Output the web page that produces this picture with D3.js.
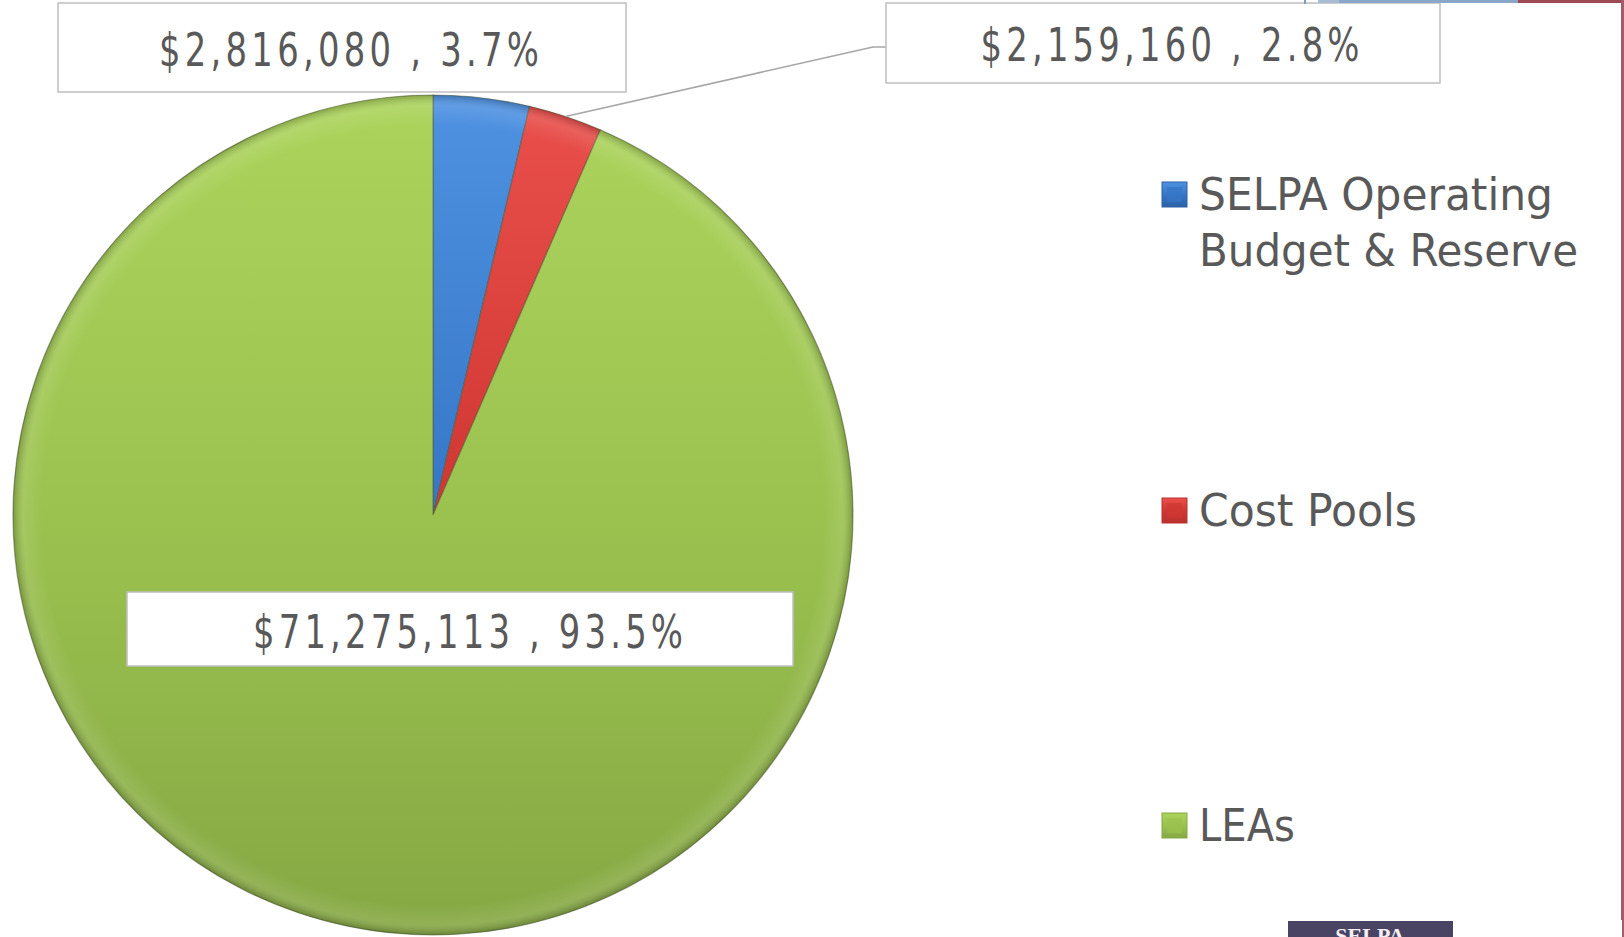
<!DOCTYPE html>
<html>
<head>
<meta charset="utf-8">
<script src="https://cdn.jsdelivr.net/npm/d3@7/dist/d3.min.js"></script>
<style>
  html, body { margin: 0; padding: 0; background: #fff; }
  svg { display: block; }
</style>
</head>
<body>
<div id="CHART"></div>
<script>
// chart data
const categories = ["SELPA Operating Budget & Reserve", "Cost Pools", "LEAs"];
const legendLines = [["SELPA Operating", "Budget & Reserve"], ["Cost Pools"], ["LEAs"]];
const amounts = [2816080, 2159160, 71275113];
const sliceColors = [
    ["#4f92e2", "#3676c6", "#2c62a8"],
    ["#ea4f4b", "#cf3733", "#b9312e"],
    ["#acd45c", "#9bc24f", "#86a844"]
];

const width = 1624,
    height = 937,
    cx = 433,
    cy = 515,
    radius = 420,
    squeeze = 0.8;

const svg = d3.select("#CHART")
    .append("svg")
    .attr("width", width)
    .attr("height", height);

const defs = svg.append("defs");

sliceColors.forEach((c, i) => {
    const g = defs.append("linearGradient")
        .attr("id", "grad" + i)
        .attr("gradientUnits", "userSpaceOnUse")
        .attr("x1", 0).attr("y1", -radius)
        .attr("x2", 0).attr("y2", radius);
    g.append("stop").attr("offset", "0").attr("stop-color", c[0]);
    g.append("stop").attr("offset", "0.5").attr("stop-color", c[1]);
    g.append("stop").attr("offset", "1").attr("stop-color", c[2]);

    const k = defs.append("linearGradient")
        .attr("id", "key" + i)
        .attr("x1", 0).attr("y1", 0).attr("x2", 0).attr("y2", 1);
    k.append("stop").attr("offset", "0").attr("stop-color", c[0]);
    k.append("stop").attr("offset", "0.5").attr("stop-color", c[1]);
    k.append("stop").attr("offset", "1").attr("stop-color", c[2]);
});

// bevel on the rim
const rim = defs.append("radialGradient")
    .attr("id", "rim")
    .attr("gradientUnits", "userSpaceOnUse")
    .attr("cx", cx).attr("cy", cy).attr("r", radius);
rim.append("stop").attr("offset", "0.93").attr("stop-color", "#fff").attr("stop-opacity", 0);
rim.append("stop").attr("offset", "0.975").attr("stop-color", "#fff").attr("stop-opacity", 0.10);
rim.append("stop").attr("offset", "1").attr("stop-color", "#000").attr("stop-opacity", 0.22);

const total = d3.sum(amounts);
const pct = d3.format(".1%");
const money = d3.format("$,");

const pie = d3.pie().sort(null).startAngle(0).endAngle(2 * Math.PI);
const arcs = pie(amounts);
const arc = d3.arc().innerRadius(0).outerRadius(radius);

svg.append("g")
    .attr("transform", "translate(" + cx + "," + cy + ")")
    .selectAll(".slice")
    .data(arcs)
    .enter().append("path")
    .attr("class", "slice")
    .attr("d", arc)
    .attr("fill", (d, i) => "url(#grad" + i + ")")
    .attr("stroke", "#4d5a38")
    .attr("stroke-opacity", 0.5)
    .attr("stroke-width", 1.2);

svg.append("circle")
    .attr("cx", cx).attr("cy", cy).attr("r", radius)
    .attr("fill", "url(#rim)")
    .style("pointer-events", "none");

// data labels
const labelBoxes = [
    { x: 58, y: 3, w: 568, h: 89, tx: 349, ty: 66, tl: 380 },
    { x: 886, y: 3, w: 554, h: 80, tx: 1170, ty: 61, tl: 379 },
    { x: 127, y: 592, w: 666, h: 74, tx: 468, ty: 648, tl: 430 }
];

// leader line for the small red slice
const mid = arcs[1];
const ma = (mid.startAngle + mid.endAngle) / 2;
const px = cx + radius * Math.sin(ma),
    py = cy - radius * Math.cos(ma);
svg.append("path")
    .attr("d", d3.line()([[px, py], [873, 47], [886, 47]]))
    .attr("fill", "none")
    .attr("stroke", "#a6a6a6")
    .attr("stroke-width", 1.5);

const labels = svg.append("g").selectAll("g")
    .data(arcs)
    .enter().append("g");

labels.append("rect")
    .attr("x", (d, i) => labelBoxes[i].x)
    .attr("y", (d, i) => labelBoxes[i].y)
    .attr("width", (d, i) => labelBoxes[i].w)
    .attr("height", (d, i) => labelBoxes[i].h)
    .attr("fill", "#fff")
    .attr("stroke", "#bfbfbf")
    .attr("stroke-width", 1.5);

labels.append("text")
    .attr("transform", "scale(" + squeeze + ",1)")
    .attr("x", (d, i) => labelBoxes[i].tx / squeeze)
    .attr("y", (d, i) => labelBoxes[i].ty)
    .attr("text-anchor", "middle")
    .attr("textLength", (d, i) => labelBoxes[i].tl / squeeze)
    .attr("lengthAdjust", "spacing")
    .style("font-family", "'Liberation Sans Narrow', 'DejaVu Sans Condensed', sans-serif")
    .style("font-size", "47px")
    .style("fill", "#595959")
    .text(d => money(d.data) + " , " + pct(d.data / total));

// legend
const legendY = [182, 498, 813];
const legendLen = [[354, 379], [218], [96]];

const legend = svg.append("g").selectAll("g")
    .data(categories)
    .enter().append("g")
    .attr("transform", (d, i) => "translate(1162," + legendY[i] + ")");

legend.append("rect")
    .attr("width", 25).attr("height", 25)
    .attr("fill", (d, i) => "url(#key" + i + ")")
    .attr("stroke", (d, i) => sliceColors[i][2])
    .attr("stroke-width", 1);

legend.append("rect")
    .attr("x", 5).attr("y", 5).attr("width", 15).attr("height", 15)
    .attr("fill", (d, i) => sliceColors[i][1])
    .attr("opacity", 0.7);

legend.each(function(d, i) {
    const t = d3.select(this).append("text")
        .style("font-family", "'DejaVu Sans Condensed', 'DejaVu Sans', sans-serif")
        .style("font-size", "45px")
        .style("fill", "#595959");
    legendLines[i].forEach((line, j) => {
        t.append("tspan")
            .attr("x", 37)
            .attr("y", 28 + j * 56)
            .attr("textLength", legendLen[i][j])
            .attr("lengthAdjust", "spacingAndGlyphs")
            .text(line);
    });
});

// slide decorations
const deco = svg.append("g");
deco.append("rect").attr("x", 1304).attr("y", 0).attr("width", 2).attr("height", 4).attr("fill", "#7a9cc8");
deco.append("rect").attr("x", 1318).attr("y", 0).attr("width", 21).attr("height", 3).attr("fill", "#a9bcd6");
deco.append("rect").attr("x", 1339).attr("y", 0).attr("width", 179).attr("height", 3).attr("fill", "#8aa6c8");
deco.append("rect").attr("x", 1518).attr("y", 0).attr("width", 106).attr("height", 3).attr("fill", "#9e4a55");
deco.append("rect").attr("x", 1621).attr("y", 0).attr("width", 3).attr("height", 920).attr("fill", "#a65a6a");
deco.append("rect").attr("x", 1622).attr("y", 920).attr("width", 2).attr("height", 17).attr("fill", "#a65a6a");

// logo peeking at the bottom
deco.append("rect").attr("x", 1288).attr("y", 921).attr("width", 165).attr("height", 20).attr("fill", "#4a4464");
deco.append("text")
    .attr("x", 1370).attr("y", 943)
    .attr("text-anchor", "middle")
    .style("font-family", "'Liberation Serif', serif")
    .style("font-weight", "bold")
    .style("font-size", "22px")
    .style("fill", "#f2f0f5")
    .text("SELPA");
</script>
</body>
</html>
